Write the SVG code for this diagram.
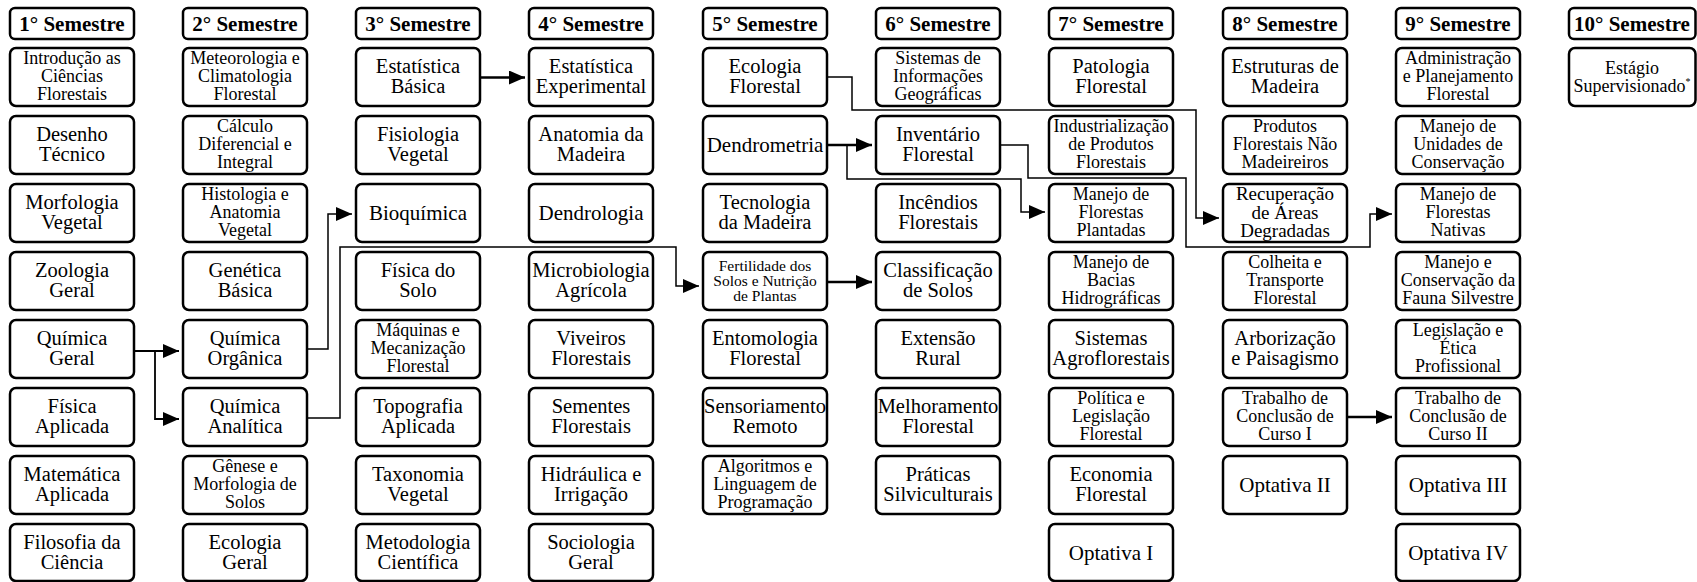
<svg xmlns="http://www.w3.org/2000/svg" width="1697" height="582" viewBox="0 0 1697 582">
<style>
.box{fill:#fff;stroke:#000;stroke-width:2.5}
.t{font-family:"Liberation Serif","Times New Roman",serif;text-anchor:middle;fill:#000}
.h{font-weight:bold;font-size:21px}
.l2{font-size:20.5px}
.l1{font-size:21px}
.l3{font-size:18px}
.s3{font-size:15.5px}
.c{fill:none;stroke:#000;stroke-width:1.5}
.ck{fill:none;stroke:#000;stroke-width:2.5}
.cm{fill:none;stroke:#000;stroke-width:1.8}
</style>
<defs>
<marker id="ah" markerUnits="userSpaceOnUse" markerWidth="17" markerHeight="14" refX="16" refY="7" orient="auto"><path d="M0,0 L16,7 L0,14 z" fill="#000"/></marker>
</defs>
<rect width="1697" height="582" fill="#fff"/>

<!-- headers -->
<g id="h1"><rect class="box" x="10" y="8" width="124" height="31" rx="5"/><text class="t h" x="72" y="30.5">1° Semestre</text></g>
<g id="h2"><rect class="box" x="183" y="8" width="124" height="31" rx="5"/><text class="t h" x="245" y="30.5">2° Semestre</text></g>
<g id="h3"><rect class="box" x="356" y="8" width="124" height="31" rx="5"/><text class="t h" x="418" y="30.5">3° Semestre</text></g>
<g id="h4"><rect class="box" x="529" y="8" width="124" height="31" rx="5"/><text class="t h" x="591" y="30.5">4° Semestre</text></g>
<g id="h5"><rect class="box" x="703" y="8" width="124" height="31" rx="5"/><text class="t h" x="765" y="30.5">5° Semestre</text></g>
<g id="h6"><rect class="box" x="876" y="8" width="124" height="31" rx="5"/><text class="t h" x="938" y="30.5">6° Semestre</text></g>
<g id="h7"><rect class="box" x="1049" y="8" width="124" height="31" rx="5"/><text class="t h" x="1111" y="30.5">7° Semestre</text></g>
<g id="h8"><rect class="box" x="1223" y="8" width="124" height="31" rx="5"/><text class="t h" x="1285" y="30.5">8° Semestre</text></g>
<g id="h9"><rect class="box" x="1396" y="8" width="124" height="31" rx="5"/><text class="t h" x="1458" y="30.5">9° Semestre</text></g>
<g id="h10"><rect class="box" x="1569" y="8" width="126.5" height="31" rx="5"/><text class="t h" x="1632" y="30.5">10° Semestre</text></g>

<!-- column 1 -->
<g id="n1_1"><rect class="box" x="10" y="48" width="124" height="58" rx="6"/><text class="t l3" x="72" y="64.4">Introdução as<tspan x="72" dy="18">Ciências</tspan><tspan x="72" dy="18">Florestais</tspan></text></g>
<g id="n1_2"><rect class="box" x="10" y="116" width="124" height="58" rx="6"/><text class="t l2" x="72" y="141">Desenho<tspan x="72" dy="20">Técnico</tspan></text></g>
<g id="n1_3"><rect class="box" x="10" y="184" width="124" height="58" rx="6"/><text class="t l2" x="72" y="209">Morfologia<tspan x="72" dy="20">Vegetal</tspan></text></g>
<g id="n1_4"><rect class="box" x="10" y="252" width="124" height="58" rx="6"/><text class="t l2" x="72" y="277">Zoologia<tspan x="72" dy="20">Geral</tspan></text></g>
<g id="n1_5"><rect class="box" x="10" y="320" width="124" height="58" rx="6"/><text class="t l2" x="72" y="345">Química<tspan x="72" dy="20">Geral</tspan></text></g>
<g id="n1_6"><rect class="box" x="10" y="388" width="124" height="58" rx="6"/><text class="t l2" x="72" y="413">Física<tspan x="72" dy="20">Aplicada</tspan></text></g>
<g id="n1_7"><rect class="box" x="10" y="456" width="124" height="58" rx="6"/><text class="t l2" x="72" y="481">Matemática<tspan x="72" dy="20">Aplicada</tspan></text></g>
<g id="n1_8"><rect class="box" x="10" y="524" width="124" height="57" rx="6"/><text class="t l2" x="72" y="549">Filosofia da<tspan x="72" dy="20">Ciência</tspan></text></g>

<!-- column 2 -->
<g id="n2_1"><rect class="box" x="183" y="48" width="124" height="58" rx="6"/><text class="t l3" x="245" y="64.4">Meteorologia e<tspan x="245" dy="18">Climatologia</tspan><tspan x="245" dy="18">Florestal</tspan></text></g>
<g id="n2_2"><rect class="box" x="183" y="116" width="124" height="58" rx="6"/><text class="t l3" x="245" y="132.4">Cálculo<tspan x="245" dy="18">Diferencial e</tspan><tspan x="245" dy="18">Integral</tspan></text></g>
<g id="n2_3"><rect class="box" x="183" y="184" width="124" height="58" rx="6"/><text class="t l3" x="245" y="200.4">Histologia e<tspan x="245" dy="18">Anatomia</tspan><tspan x="245" dy="18">Vegetal</tspan></text></g>
<g id="n2_4"><rect class="box" x="183" y="252" width="124" height="58" rx="6"/><text class="t l2" x="245" y="277">Genética<tspan x="245" dy="20">Básica</tspan></text></g>
<g id="n2_5"><rect class="box" x="183" y="320" width="124" height="58" rx="6"/><text class="t l2" x="245" y="345">Química<tspan x="245" dy="20">Orgânica</tspan></text></g>
<g id="n2_6"><rect class="box" x="183" y="388" width="124" height="58" rx="6"/><text class="t l2" x="245" y="413">Química<tspan x="245" dy="20">Analítica</tspan></text></g>
<g id="n2_7"><rect class="box" x="183" y="456" width="124" height="58" rx="6"/><text class="t l3" x="245" y="472.4">Gênese e<tspan x="245" dy="18">Morfologia de</tspan><tspan x="245" dy="18">Solos</tspan></text></g>
<g id="n2_8"><rect class="box" x="183" y="524" width="124" height="57" rx="6"/><text class="t l2" x="245" y="549">Ecologia<tspan x="245" dy="20">Geral</tspan></text></g>

<!-- column 3 -->
<g id="n3_1"><rect class="box" x="356" y="48" width="124" height="58" rx="6"/><text class="t l2" x="418" y="73">Estatística<tspan x="418" dy="20">Básica</tspan></text></g>
<g id="n3_2"><rect class="box" x="356" y="116" width="124" height="58" rx="6"/><text class="t l2" x="418" y="141">Fisiologia<tspan x="418" dy="20">Vegetal</tspan></text></g>
<g id="n3_3"><rect class="box" x="356" y="184" width="124" height="58" rx="6"/><text class="t l1" x="418" y="220">Bioquímica</text></g>
<g id="n3_4"><rect class="box" x="356" y="252" width="124" height="58" rx="6"/><text class="t l2" x="418" y="277">Física do<tspan x="418" dy="20">Solo</tspan></text></g>
<g id="n3_5"><rect class="box" x="356" y="320" width="124" height="58" rx="6"/><text class="t l3" x="418" y="336.4">Máquinas e<tspan x="418" dy="18">Mecanização</tspan><tspan x="418" dy="18">Florestal</tspan></text></g>
<g id="n3_6"><rect class="box" x="356" y="388" width="124" height="58" rx="6"/><text class="t l2" x="418" y="413">Topografia<tspan x="418" dy="20">Aplicada</tspan></text></g>
<g id="n3_7"><rect class="box" x="356" y="456" width="124" height="58" rx="6"/><text class="t l2" x="418" y="481">Taxonomia<tspan x="418" dy="20">Vegetal</tspan></text></g>
<g id="n3_8"><rect class="box" x="356" y="524" width="124" height="57" rx="6"/><text class="t l2" x="418" y="549">Metodologia<tspan x="418" dy="20">Científica</tspan></text></g>

<!-- column 4 -->
<g id="n4_1"><rect class="box" x="529" y="48" width="124" height="58" rx="6"/><text class="t l2" x="591" y="73">Estatística<tspan x="591" dy="20">Experimental</tspan></text></g>
<g id="n4_2"><rect class="box" x="529" y="116" width="124" height="58" rx="6"/><text class="t l2" x="591" y="141">Anatomia da<tspan x="591" dy="20">Madeira</tspan></text></g>
<g id="n4_3"><rect class="box" x="529" y="184" width="124" height="58" rx="6"/><text class="t l1" x="591" y="220">Dendrologia</text></g>
<g id="n4_4"><rect class="box" x="529" y="252" width="124" height="58" rx="6"/><text class="t l2" x="591" y="277">Microbiologia<tspan x="591" dy="20">Agrícola</tspan></text></g>
<g id="n4_5"><rect class="box" x="529" y="320" width="124" height="58" rx="6"/><text class="t l2" x="591" y="345">Viveiros<tspan x="591" dy="20">Florestais</tspan></text></g>
<g id="n4_6"><rect class="box" x="529" y="388" width="124" height="58" rx="6"/><text class="t l2" x="591" y="413">Sementes<tspan x="591" dy="20">Florestais</tspan></text></g>
<g id="n4_7"><rect class="box" x="529" y="456" width="124" height="58" rx="6"/><text class="t l2" x="591" y="481">Hidráulica e<tspan x="591" dy="20">Irrigação</tspan></text></g>
<g id="n4_8"><rect class="box" x="529" y="524" width="124" height="57" rx="6"/><text class="t l2" x="591" y="549">Sociologia<tspan x="591" dy="20">Geral</tspan></text></g>

<!-- column 5 -->
<g id="n5_1"><rect class="box" x="703" y="48" width="124" height="58" rx="6"/><text class="t l2" x="765" y="73">Ecologia<tspan x="765" dy="20">Florestal</tspan></text></g>
<g id="n5_2"><rect class="box" x="703" y="116" width="124" height="58" rx="6"/><text class="t l1" x="765" y="152">Dendrometria</text></g>
<g id="n5_3"><rect class="box" x="703" y="184" width="124" height="58" rx="6"/><text class="t l2" x="765" y="209">Tecnologia<tspan x="765" dy="20">da Madeira</tspan></text></g>
<g id="n5_4"><rect class="box" x="703" y="252" width="124" height="58" rx="6"/><text class="t s3" x="765" y="270.6">Fertilidade dos<tspan x="765" dy="15">Solos e Nutrição</tspan><tspan x="765" dy="15">de Plantas</tspan></text></g>
<g id="n5_5"><rect class="box" x="703" y="320" width="124" height="58" rx="6"/><text class="t l2" x="765" y="345">Entomologia<tspan x="765" dy="20">Florestal</tspan></text></g>
<g id="n5_6"><rect class="box" x="703" y="388" width="124" height="58" rx="6"/><text class="t l2" x="765" y="413">Sensoriamento<tspan x="765" dy="20">Remoto</tspan></text></g>
<g id="n5_7"><rect class="box" x="703" y="456" width="124" height="58" rx="6"/><text class="t l3" x="765" y="472.4">Algoritmos e<tspan x="765" dy="18">Linguagem de</tspan><tspan x="765" dy="18">Programação</tspan></text></g>

<!-- column 6 -->
<g id="n6_1"><rect class="box" x="876" y="48" width="124" height="58" rx="6"/><text class="t l3" x="938" y="64.4">Sistemas de<tspan x="938" dy="18">Informações</tspan><tspan x="938" dy="18">Geográficas</tspan></text></g>
<g id="n6_2"><rect class="box" x="876" y="116" width="124" height="58" rx="6"/><text class="t l2" x="938" y="141">Inventário<tspan x="938" dy="20">Florestal</tspan></text></g>
<g id="n6_3"><rect class="box" x="876" y="184" width="124" height="58" rx="6"/><text class="t l2" x="938" y="209">Incêndios<tspan x="938" dy="20">Florestais</tspan></text></g>
<g id="n6_4"><rect class="box" x="876" y="252" width="124" height="58" rx="6"/><text class="t l2" x="938" y="277">Classificação<tspan x="938" dy="20">de Solos</tspan></text></g>
<g id="n6_5"><rect class="box" x="876" y="320" width="124" height="58" rx="6"/><text class="t l2" x="938" y="345">Extensão<tspan x="938" dy="20">Rural</tspan></text></g>
<g id="n6_6"><rect class="box" x="876" y="388" width="124" height="58" rx="6"/><text class="t l2" x="938" y="413">Melhoramento<tspan x="938" dy="20">Florestal</tspan></text></g>
<g id="n6_7"><rect class="box" x="876" y="456" width="124" height="58" rx="6"/><text class="t l2" x="938" y="481">Práticas<tspan x="938" dy="20">Silviculturais</tspan></text></g>

<!-- column 7 -->
<g id="n7_1"><rect class="box" x="1049" y="48" width="124" height="58" rx="6"/><text class="t l2" x="1111" y="73">Patologia<tspan x="1111" dy="20">Florestal</tspan></text></g>
<g id="n7_2"><rect class="box" x="1049" y="116" width="124" height="58" rx="6"/><text class="t l3" x="1111" y="132.4">Industrialização<tspan x="1111" dy="18">de Produtos</tspan><tspan x="1111" dy="18">Florestais</tspan></text></g>
<g id="n7_3"><rect class="box" x="1049" y="184" width="124" height="58" rx="6"/><text class="t l3" x="1111" y="200.4">Manejo de<tspan x="1111" dy="18">Florestas</tspan><tspan x="1111" dy="18">Plantadas</tspan></text></g>
<g id="n7_4"><rect class="box" x="1049" y="252" width="124" height="58" rx="6"/><text class="t l3" x="1111" y="268.4">Manejo de<tspan x="1111" dy="18">Bacias</tspan><tspan x="1111" dy="18">Hidrográficas</tspan></text></g>
<g id="n7_5"><rect class="box" x="1049" y="320" width="124" height="58" rx="6"/><text class="t l2" x="1111" y="345">Sistemas<tspan x="1111" dy="20">Agroflorestais</tspan></text></g>
<g id="n7_6"><rect class="box" x="1049" y="388" width="124" height="58" rx="6"/><text class="t l3" x="1111" y="404.4">Política e<tspan x="1111" dy="18">Legislação</tspan><tspan x="1111" dy="18">Florestal</tspan></text></g>
<g id="n7_7"><rect class="box" x="1049" y="456" width="124" height="58" rx="6"/><text class="t l2" x="1111" y="481">Economia<tspan x="1111" dy="20">Florestal</tspan></text></g>
<g id="n7_8"><rect class="box" x="1049" y="524" width="124" height="57" rx="6"/><text class="t l1" x="1111" y="560">Optativa I</text></g>

<!-- column 8 -->
<g id="n8_1"><rect class="box" x="1223" y="48" width="124" height="58" rx="6"/><text class="t l2" x="1285" y="73">Estruturas de<tspan x="1285" dy="20">Madeira</tspan></text></g>
<g id="n8_2"><rect class="box" x="1223" y="116" width="124" height="58" rx="6"/><text class="t l3" x="1285" y="132.4">Produtos<tspan x="1285" dy="18">Florestais Não</tspan><tspan x="1285" dy="18">Madeireiros</tspan></text></g>
<g id="n8_3"><rect class="box" x="1223" y="184" width="124" height="58" rx="6"/><text class="t" font-size="19" x="1285" y="200">Recuperação<tspan x="1285" dy="18.5">de Áreas</tspan><tspan x="1285" dy="18.5">Degradadas</tspan></text></g>
<g id="n8_4"><rect class="box" x="1223" y="252" width="124" height="58" rx="6"/><text class="t l3" x="1285" y="268.4">Colheita e<tspan x="1285" dy="18">Transporte</tspan><tspan x="1285" dy="18">Florestal</tspan></text></g>
<g id="n8_5"><rect class="box" x="1223" y="320" width="124" height="58" rx="6"/><text class="t l2" x="1285" y="345">Arborização<tspan x="1285" dy="20">e Paisagismo</tspan></text></g>
<g id="n8_6"><rect class="box" x="1223" y="388" width="124" height="58" rx="6"/><text class="t l3" x="1285" y="404.4">Trabalho de<tspan x="1285" dy="18">Conclusão de</tspan><tspan x="1285" dy="18">Curso I</tspan></text></g>
<g id="n8_7"><rect class="box" x="1223" y="456" width="124" height="58" rx="6"/><text class="t l1" x="1285" y="492">Optativa II</text></g>

<!-- column 9 -->
<g id="n9_1"><rect class="box" x="1396" y="48" width="124" height="58" rx="6"/><text class="t l3" x="1458" y="64.4">Administração<tspan x="1458" dy="18">e Planejamento</tspan><tspan x="1458" dy="18">Florestal</tspan></text></g>
<g id="n9_2"><rect class="box" x="1396" y="116" width="124" height="58" rx="6"/><text class="t l3" x="1458" y="132.4">Manejo de<tspan x="1458" dy="18">Unidades de</tspan><tspan x="1458" dy="18">Conservação</tspan></text></g>
<g id="n9_3"><rect class="box" x="1396" y="184" width="124" height="58" rx="6"/><text class="t l3" x="1458" y="200.4">Manejo de<tspan x="1458" dy="18">Florestas</tspan><tspan x="1458" dy="18">Nativas</tspan></text></g>
<g id="n9_4"><rect class="box" x="1396" y="252" width="124" height="58" rx="6"/><text class="t l3" x="1458" y="268.4">Manejo e<tspan x="1458" dy="18">Conservação da</tspan><tspan x="1458" dy="18">Fauna Silvestre</tspan></text></g>
<g id="n9_5"><rect class="box" x="1396" y="320" width="124" height="58" rx="6"/><text class="t l3" x="1458" y="336.4">Legislação e<tspan x="1458" dy="18">Ética</tspan><tspan x="1458" dy="18">Profissional</tspan></text></g>
<g id="n9_6"><rect class="box" x="1396" y="388" width="124" height="58" rx="6"/><text class="t l3" x="1458" y="404.4">Trabalho de<tspan x="1458" dy="18">Conclusão de</tspan><tspan x="1458" dy="18">Curso II</tspan></text></g>
<g id="n9_7"><rect class="box" x="1396" y="456" width="124" height="58" rx="6"/><text class="t l1" x="1458" y="492">Optativa III</text></g>
<g id="n9_8"><rect class="box" x="1396" y="524" width="124" height="57" rx="6"/><text class="t l1" x="1458" y="560">Optativa IV</text></g>

<!-- column 10 -->
<g id="n10_1"><rect class="box" x="1569" y="48" width="126.5" height="58" rx="6"/><text class="t l3" x="1632" y="73.5">Estágio<tspan x="1632" dy="18">Supervisionado<tspan font-size="10" dy="-7">*</tspan></tspan></text></g>

<!-- connectors -->
<g id="connectors">
<path class="cm" d="M134,351 H179" marker-end="url(#ah)"/>
<path class="cm" d="M155,351 V419 H179" marker-end="url(#ah)"/>
<path class="c" d="M307,349 H328 V214 H352" marker-end="url(#ah)"/>
<path class="c" d="M307,418 H340 V247 H676 V286 H699" marker-end="url(#ah)"/>
<path class="ck" d="M481,77.5 H525" marker-end="url(#ah)"/>
<path class="ck" d="M827,282 H872" marker-end="url(#ah)"/>
<path class="ck" d="M827,145 H872" marker-end="url(#ah)"/>
<path class="c" d="M847,145 V179 H1021 V212 H1045" marker-end="url(#ah)"/>
<path class="c" d="M827,77 H852 V110 H1196 V218 H1219" marker-end="url(#ah)"/>
<path class="c" d="M1001,145 H1028 V178 H1186 V247 H1370 V214 H1392" marker-end="url(#ah)"/>
<path class="ck" d="M1347,417 H1392" marker-end="url(#ah)"/>
</g>
</svg>
